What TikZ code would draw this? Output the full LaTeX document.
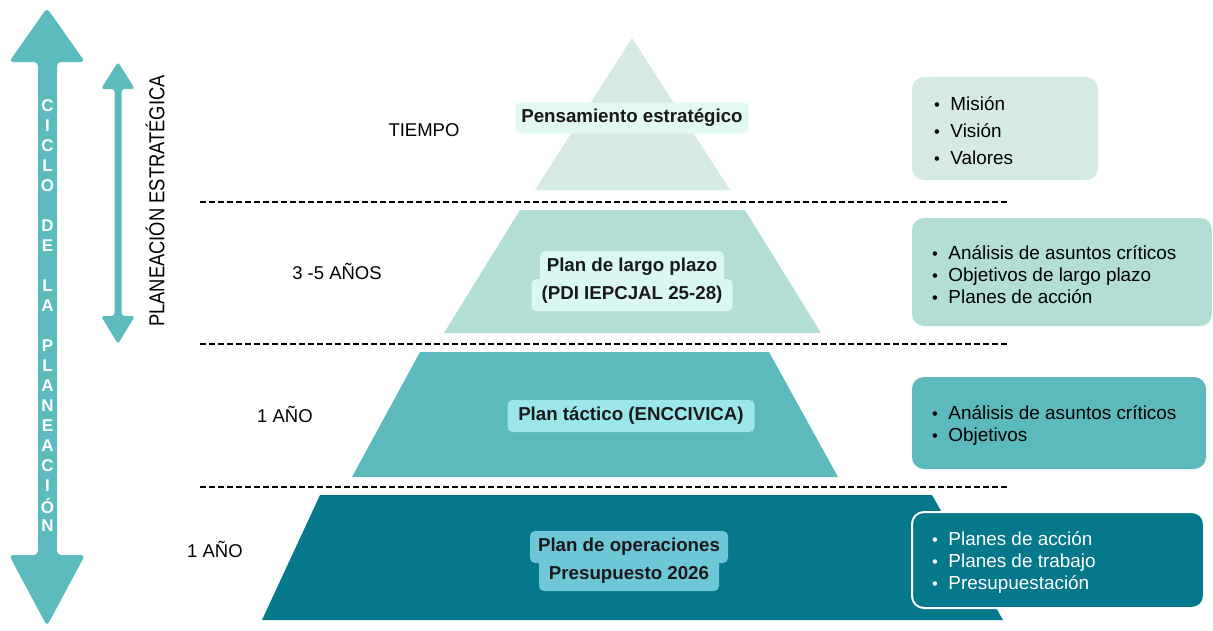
\documentclass[tikz,border=0pt]{standalone}
\usepackage{fontspec}
\setmainfont{Liberation Sans}
\newfontfamily\condfont[FakeStretch=0.85]{Liberation Sans}
\definecolor{c1}{HTML}{D5EAE3}
\definecolor{c2}{HTML}{B2DED6}
\definecolor{c3}{HTML}{5CBABC}
\definecolor{c4}{HTML}{05788B}
\definecolor{l1}{HTML}{E2F8F2}
\definecolor{l2}{HTML}{DBF7F3}
\definecolor{l3}{HTML}{9AE6E8}
\definecolor{l4}{HTML}{6EC7D7}
\definecolor{arr}{HTML}{5CBCBD}
\tikzset{
  lvl/.style={font=\fontsize{18.5}{22}\selectfont, text=black},
  lab/.style={rounded corners=5pt, inner xsep=6pt, inner ysep=4pt, font=\fontsize{18.7}{22}\selectfont\bfseries, text=black!90},
  sidebox/.style={rounded corners=12pt, minimum width=#1, inner sep=0pt},
  blist/.style={align=left, anchor=west, font=\fontsize{18.9}{22}\selectfont, inner sep=0pt},
  sep/.style={line width=1.5pt, dash pattern=on 6pt off 3pt},
  vlet/.style={text=white, font=\fontsize{17}{17}\selectfont\bfseries, inner sep=0pt},
}
\newcommand{\bul}{{\fontsize{16.5}{16}\selectfont\textbullet}\hspace{10.5pt}}
\begin{document}
\begin{tikzpicture}[x=1pt,y=-1pt]
\useasboundingbox (0,0) rectangle (1213,630);
% pyramid levels
\fill[c1] (632,38) -- (730,190) -- (535,190) -- cycle;
\fill[c2] (520,210) -- (745,210) -- (821,333) -- (444,333) -- cycle;
\fill[c3] (420,352) -- (769,352) -- (838,477) -- (352,477) -- cycle;
\fill[c4] (320,495) -- (932,495) -- (1003,620) -- (262,620) -- cycle;
% dashed separators
\draw[sep] (200,202) -- (1008,202);
\draw[sep] (200,344) -- (1008,344);
\draw[sep] (200,487) -- (1008,487);
% pyramid labels
\node[lab, fill=l1, minimum width=233pt, minimum height=31pt] (pe) at (632,118) {Pensamiento estratégico};
\node[lab, fill=l2, minimum width=184pt, minimum height=32pt] (lp1) at (632,267) {Plan de largo plazo};
\node[lab, fill=l2, minimum width=201pt, minimum height=32pt] (lp2) at (632,295) {(PDI IEPCJAL 25-28)};
\node[lab, fill=l3, minimum width=247pt, minimum height=32pt] (pt) at (631,416) {Plan táctico (ENCCIVICA)};
\node[lab, fill=l4, minimum width=198pt, minimum height=32pt] (po1) at (629,547) {Plan de operaciones};
\node[lab, fill=l4, minimum width=180pt, minimum height=32pt] (po2) at (629,575) {Presupuesto 2026};
% time labels
\node[lvl] (t1) at (424,130) {TIEMPO};
\node[lvl] (t2) at (337,271) {3 -5 AÑOS};
\node[lvl] (t3) at (285,414) {1 AÑO};
\node[lvl] (t4) at (215,549) {1 AÑO};
% side boxes
\node[sidebox=186pt, fill=c1, minimum height=103pt] (b1) at (1005,128.5) {};
\node[blist, font=\fontsize{18.9}{27}\selectfont] (b1t) at (934,130.5) {\bul Misión\\\bul Visión\\\bul Valores};
\node[sidebox=300pt, fill=c2, minimum height=108pt] (b2) at (1062,272) {};
\node[blist] (b2t) at (932,274.5) {\bul Análisis de asuntos críticos\\\bul Objetivos de largo plazo\\\bul Planes de acción};
\node[sidebox=294pt, fill=c3, minimum height=92pt] (b3) at (1059,423) {};
\node[blist] (b3t) at (932,425.5) {\bul Análisis de asuntos críticos\\\bul Objetivos};
\node[sidebox=292pt, fill=c4, draw=white, line width=2pt, minimum height=96pt] (b4) at (1058,560) {};
\node[blist, text=white] (b4t) at (932,562.5) {\bul Planes de acción\\\bul Planes de trabajo\\\bul Presupuestación};
% big double arrow
\fill[arr, rounded corners=4pt] (47,8) -- (85,62) -- (57,62) -- (57,555) -- (85,555) -- (47,626) -- (9,555) -- (38,555) -- (38,62) -- (9,62) -- cycle;
\foreach \ch [count=\i from 0] in {C,I,C,L,O,{},D,E,{},L,A,{},P,L,A,N,E,A,C,I,Ó,N}
  \node[vlet] at (47.5,{106+20*\i}) {\ch};
% small double arrow
\fill[arr, rounded corners=3pt] (118,62) -- (135,89) -- (121.5,89) -- (121.5,316) -- (135,316) -- (118,344) -- (101,316) -- (114.5,316) -- (114.5,89) -- (101,89) -- cycle;
\node[rotate=90, font=\fontsize{21.6}{21.6}\condfont, text=black] (pl) at (155,201) {PLANEACIÓN ESTRATÉGICA};
\end{tikzpicture}
\end{document}
